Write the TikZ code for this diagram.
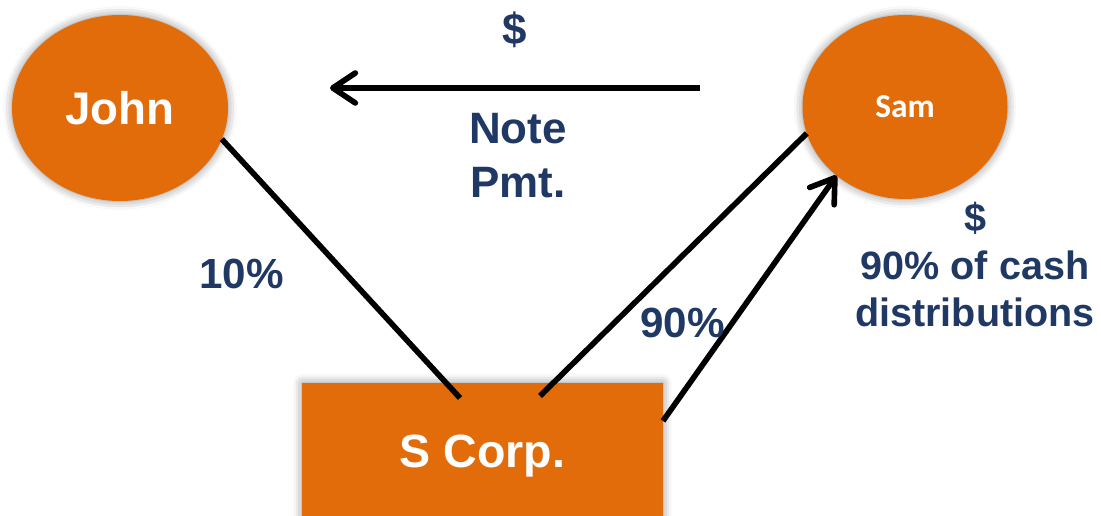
\documentclass[tikz,border=0pt]{standalone}
\usepackage{fontspec}
\setmainfont{Liberation Sans}
\newfontfamily\samfont{Carlito}
\definecolor{corporange}{RGB}{227, 108, 10}
\definecolor{labelnavy}{RGB}{31, 56, 100}
\usetikzlibrary{shapes.geometric, arrows.meta, shadows.blur}

\begin{document}
\begin{tikzpicture}[
  party/.style={fill=corporange, text=white, inner sep=0pt, outer sep=0pt,
    blur shadow={shadow xshift=0pt, shadow yshift=0pt, shadow blur radius=5pt, shadow opacity=45}},
  flow/.style={line width=3.2pt, black},
  barb/.style={-{Straight Barb[length=4.5mm, width=6mm, round]}},
  tag/.style={text=labelnavy, inner sep=0pt, align=center, font=\bfseries\fontsize{24}{29}\selectfont}
]
  \useasboundingbox (0,0) rectangle (22.02,10.3);

  % shareholders and the corporation
  \node[party, ellipse, minimum width=4.32cm, minimum height=3.72cm,
        font=\bfseries\fontsize{26}{31}\selectfont] (john) at (2.4,8.14) {John};
  \node[party, ellipse, minimum width=4.1cm, minimum height=3.68cm,
        font=\samfont\bfseries\fontsize{19}{23}\selectfont] (sam) at (18.1,8.16) {Sam};
  \node[party, rectangle, minimum width=7.22cm, minimum height=2.92cm,
        font=\bfseries\fontsize{26.5}{32}\selectfont] (scorp) at (9.65,1.18) {S Corp.};

  % ownership lines and cash flows
  \coordinate (johnfoot) at (9.2,2.34);
  \coordinate (samfoot) at (10.8,2.38);
  \coordinate (pmtstart) at (14,8.54);
  \coordinate (pmtend) at (6.6,8.54);

  \draw[flow] (john.-17) -- (johnfoot);
  \draw[flow] (samfoot) -- (sam.195);
  \draw[flow, barb] (scorp.11.3) -- (sam.225);
  \draw[flow, barb] (pmtstart) -- (pmtend);

  % labels
  \node[tag, font=\bfseries\fontsize{25}{30}\selectfont] (topcash) at (10.3,9.7) {\$};
  \node[tag, anchor=north, font=\bfseries\fontsize{25}{30.6}\selectfont] (notepmt) at (10.36,8.04) {Note\\Pmt.};
  \node[tag] (johnshare) at (4.83,4.83) {10\%};
  \node[tag] (samshare) at (13.65,3.85) {90\%};
  \node[tag, anchor=north, font=\bfseries\fontsize{22.5}{27}\selectfont] (samcash) at (19.5,6.26)
    {\$\\90\% of cash\\distributions};
\end{tikzpicture}
\end{document}
